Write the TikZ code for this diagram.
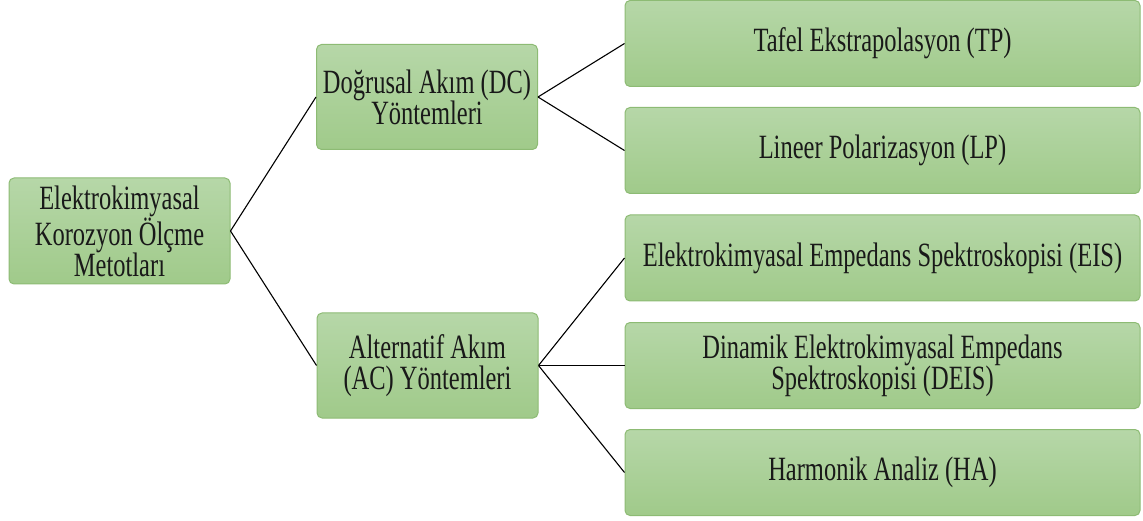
\documentclass[tikz,border=0pt]{standalone}
\usepackage{fontspec}
\setmainfont{Liberation Serif}
\newfontfamily\boxfont[FakeStretch=0.72]{Liberation Serif}
\definecolor{boxtop}{HTML}{B6D7A8}
\definecolor{boxbot}{HTML}{A0CA8A}
\definecolor{boxline}{HTML}{8DBB74}
\tikzset{
  gbox/.style={draw=boxline, line width=1pt, rounded corners=5pt, top color=boxtop, bottom color=boxbot,
    align=center, font=\boxfont\fontsize{34}{31}\selectfont, text=black!90, inner sep=2pt},
  conn/.style={draw=black, line width=1.1pt}
}
\begin{document}
\begin{tikzpicture}[x=1pt,y=-1pt]
\useasboundingbox (0,0) rectangle (1143,521);
\node[gbox, minimum width=221pt, minimum height=106pt] (root) at (119.5,231) {Elektrokimyasal\\Korozyon Ölçme\\Metotları};
\node[gbox, minimum width=221pt, minimum height=105pt] (dc) at (427,97) {Doğrusal Akım (DC)\\Yöntemleri};
\node[gbox, minimum width=221pt, minimum height=105pt] (ac) at (427.5,365.5) {Alternatif Akım\\(AC) Yöntemleri};
\node[gbox, minimum width=515pt, minimum height=86pt] (tp) at (882.5,43.5) {Tafel Ekstrapolasyon (TP)};
\node[gbox, minimum width=515pt, minimum height=86pt] (lp) at (882.5,150.5) {Lineer Polarizasyon (LP)};
\node[gbox, minimum width=515pt, minimum height=86pt] (eis) at (882.5,258) {Elektrokimyasal Empedans Spektroskopisi (EIS)};
\node[gbox, minimum width=515pt, minimum height=86pt] (deis) at (882.5,365.5) {Dinamik Elektrokimyasal Empedans\\Spektroskopisi (DEIS)};
\node[gbox, minimum width=515pt, minimum height=86pt] (ha) at (882.5,472.5) {Harmonik Analiz (HA)};
\draw[conn] (root.east) -- (dc.west);
\draw[conn] (root.east) -- (ac.west);
\draw[conn] (dc.east) -- (tp.west);
\draw[conn] (dc.east) -- (lp.west);
\draw[conn] (ac.east) -- (eis.west);
\draw[conn] (ac.east) -- (deis.west);
\draw[conn] (ac.east) -- (ha.west);
\end{tikzpicture}
\end{document}
